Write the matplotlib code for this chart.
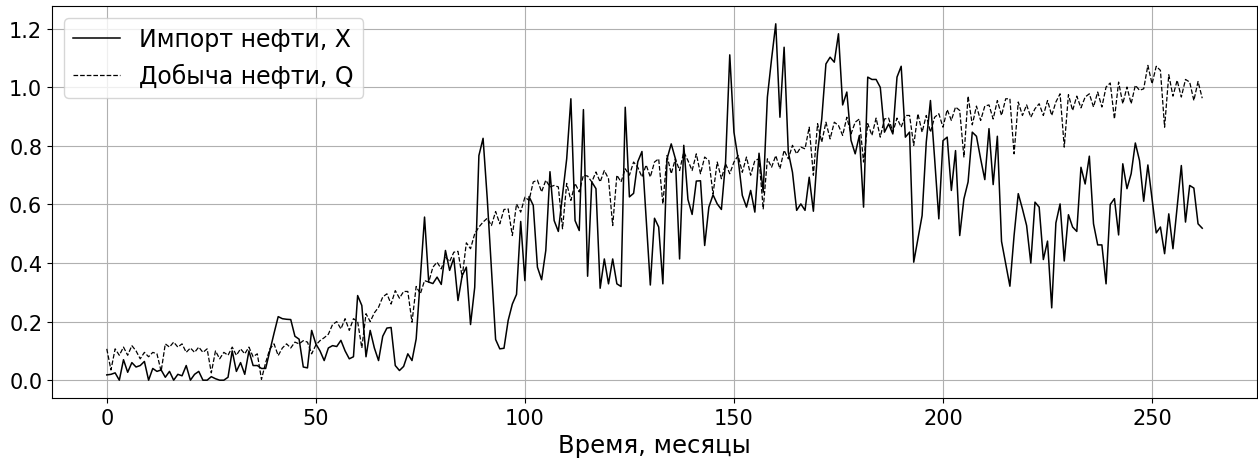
import numpy as np
import matplotlib
matplotlib.use("Agg")
import matplotlib.pyplot as plt

# Import of oil (X), by month
import_x = [
    0.018, 0.02, 0.025, 0.0, 0.07, 0.027, 0.06, 0.045, 0.05, 0.064,
    0.0, 0.04, 0.03, 0.035, 0.01, 0.03, 0.0, 0.02, 0.015, 0.05,
    0.0, 0.02, 0.03, 0.0, 0.0, 0.012, 0.005, 0.0, 0.0, 0.01,
    0.1, 0.03, 0.06, 0.02, 0.1, 0.05, 0.05, 0.04, 0.04, 0.1,
    0.16, 0.217, 0.21, 0.208, 0.207, 0.15, 0.14, 0.045, 0.042, 0.17,
    0.124, 0.1, 0.067, 0.11, 0.118, 0.115, 0.136, 0.1, 0.073, 0.08,
    0.289, 0.255, 0.08, 0.17, 0.11, 0.067, 0.15, 0.178, 0.18, 0.05,
    0.033, 0.047, 0.09, 0.067, 0.141, 0.35, 0.557, 0.335, 0.33, 0.352,
    0.327, 0.443, 0.375, 0.417, 0.272, 0.357, 0.386, 0.19, 0.317, 0.767,
    0.826, 0.62, 0.38, 0.139, 0.107, 0.109, 0.204, 0.26, 0.293, 0.542,
    0.34, 0.627, 0.597, 0.386, 0.343, 0.443, 0.712, 0.545, 0.508, 0.631,
    0.756, 0.961, 0.545, 0.511, 0.924, 0.355, 0.677, 0.654, 0.314, 0.414,
    0.329, 0.414, 0.329, 0.32, 0.932, 0.626, 0.638, 0.746, 0.781, 0.551,
    0.325, 0.553, 0.523, 0.329, 0.756, 0.807, 0.756, 0.414, 0.802, 0.617,
    0.566, 0.68, 0.681, 0.46, 0.591, 0.633, 0.602, 0.583, 0.746, 1.111,
    0.847, 0.756, 0.631, 0.591, 0.648, 0.574, 0.775, 0.642, 0.967, 1.097,
    1.217, 0.898, 1.137, 0.779, 0.71, 0.58, 0.602, 0.58, 0.693, 0.577,
    0.779, 0.892, 1.08, 1.103, 1.086, 1.183, 0.94, 0.984, 0.819, 0.773,
    0.836, 0.591, 1.035, 1.027, 1.027, 1.0, 0.847, 0.875, 0.841, 1.035,
    1.072, 0.83, 0.847, 0.403, 0.483, 0.562, 0.813, 0.955, 0.756, 0.551,
    0.818, 0.83, 0.648, 0.784, 0.494, 0.619, 0.677, 0.847, 0.833, 0.756,
    0.685, 0.859, 0.668, 0.833, 0.474, 0.397, 0.321, 0.494, 0.637, 0.585,
    0.528, 0.4, 0.608, 0.591, 0.412, 0.475, 0.247, 0.537, 0.602, 0.407,
    0.565, 0.523, 0.508, 0.727, 0.67, 0.765, 0.534, 0.462, 0.462, 0.329,
    0.6, 0.62, 0.496, 0.739, 0.654, 0.705, 0.81, 0.75, 0.611, 0.735,
    0.619, 0.503, 0.523, 0.432, 0.568, 0.449, 0.591, 0.733, 0.54, 0.665,
    0.656, 0.534, 0.519,
]

# Oil production (Q), by month
prod_q = [
    0.107, 0.035, 0.107, 0.085, 0.113, 0.085, 0.118, 0.1, 0.073, 0.095,
    0.08, 0.095, 0.09, 0.03, 0.124, 0.113, 0.13, 0.113, 0.124, 0.095,
    0.11, 0.095, 0.113, 0.095, 0.107, 0.025, 0.1, 0.073, 0.095, 0.085,
    0.113, 0.085, 0.107, 0.09, 0.113, 0.08, 0.09, 0.003, 0.06, 0.107,
    0.124, 0.084, 0.11, 0.124, 0.11, 0.13, 0.124, 0.135, 0.13, 0.09,
    0.12, 0.135, 0.145, 0.157, 0.19, 0.2, 0.175, 0.21, 0.17, 0.21,
    0.2, 0.11, 0.227, 0.2, 0.23, 0.249, 0.284, 0.295, 0.26, 0.306,
    0.28, 0.303, 0.303, 0.198, 0.32, 0.295, 0.34, 0.335, 0.386, 0.403,
    0.38, 0.42, 0.405, 0.437, 0.44, 0.352, 0.469, 0.449, 0.5, 0.523,
    0.54, 0.553, 0.528, 0.576, 0.534, 0.583, 0.585, 0.494, 0.602, 0.574,
    0.625, 0.614, 0.677, 0.683, 0.643, 0.683, 0.66, 0.665, 0.66, 0.517,
    0.672, 0.614, 0.672, 0.643, 0.7, 0.697, 0.677, 0.711, 0.677, 0.716,
    0.688, 0.528, 0.7, 0.677, 0.722, 0.7, 0.745, 0.727, 0.694, 0.735,
    0.694, 0.745, 0.756, 0.602, 0.767, 0.705, 0.756, 0.716, 0.779, 0.75,
    0.716, 0.773, 0.705, 0.762, 0.75, 0.636, 0.745, 0.688, 0.739, 0.705,
    0.745, 0.767, 0.71, 0.762, 0.7, 0.75, 0.756, 0.585, 0.756, 0.727,
    0.767, 0.722, 0.785, 0.756, 0.802, 0.773, 0.796, 0.79, 0.864, 0.7,
    0.876, 0.813, 0.881, 0.824, 0.881, 0.87, 0.836, 0.898, 0.841, 0.881,
    0.892, 0.745, 0.876, 0.836, 0.895, 0.83, 0.892, 0.895, 0.847, 0.895,
    0.864, 0.904, 0.904, 0.802, 0.91, 0.847, 0.904, 0.847, 0.898, 0.91,
    0.864, 0.924, 0.887, 0.933, 0.921, 0.762, 0.97, 0.872, 0.936, 0.887,
    0.936, 0.94, 0.892, 0.955, 0.904, 0.961, 0.961, 0.773, 0.95, 0.904,
    0.94, 0.898, 0.927, 0.944, 0.904, 0.955, 0.904, 0.95, 0.978, 0.796,
    0.975, 0.921, 0.97, 0.93, 0.967, 0.978, 0.933, 0.984, 0.933, 1.001,
    1.015, 0.892, 1.018, 0.944, 1.001, 0.944, 1.007, 0.99, 0.995, 1.075,
    1.012, 1.072, 1.058, 0.864, 1.043, 0.97, 1.024, 0.967, 1.027, 1.018,
    0.955, 1.02, 0.963,
]

months = np.arange(len(import_x))

fig = plt.figure(figsize=(12.58, 4.6), dpi=100)
ax = fig.add_axes([52 / 1258, 1 - 399 / 460, (1257 - 52) / 1258, (399 - 7) / 460])

ax.plot(months, import_x, color="black", linewidth=1.1, label="Импорт нефти, X")
ax.plot(months, prod_q, color="black", linewidth=0.9, linestyle="--", label="Добыча нефти, Q")

ax.set_xlabel("Время, месяцы", fontsize=17.5)
ax.tick_params(labelsize=15)
ax.grid(True)
ax.legend(loc="upper left", fontsize=17)

fig.savefig("out.png", dpi=100)
